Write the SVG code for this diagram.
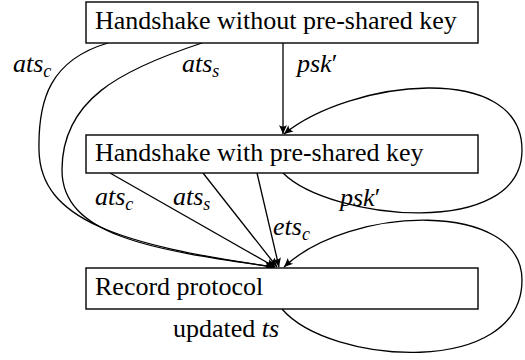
<svg xmlns="http://www.w3.org/2000/svg" width="525" height="360" viewBox="0 0 525 360">
<style>
.box{fill:#fff;stroke:#000;stroke-width:1.4}
.t{font-family:"Liberation Serif","Times New Roman",serif;font-size:26px;fill:#000}
.m{font-family:"Liberation Serif","Times New Roman",serif;font-style:italic;font-size:26px;fill:#000}
.sub{font-size:18px}
.e{fill:none;stroke:#000;stroke-width:1.3;marker-end:url(#ah)}
</style>
<defs>
<marker id="ah" markerUnits="userSpaceOnUse" markerWidth="12" markerHeight="12" viewBox="-10 -6 12 12" refX="0" refY="0" orient="auto">
<path d="M0,0 L-9,-4 Q-6,0 -9,4 Z" fill="#000"/>
</marker>
</defs>
<rect width="525" height="360" fill="#fff"/>
<g id="edges">
<path class="e" d="M283,43 L283,134"/>
<path class="e" d="M108,43 C50,60 38,100 39,150 C40,220 120,245 274,267"/>
<path class="e" d="M202,43 C120,70 62,100 62,170 C62,235 150,250 275,267"/>
<path class="e" d="M110,173 L275,267"/>
<path class="e" d="M203,173 L277,267"/>
<path class="e" d="M257,173 L279,267"/>
<path class="e" d="M283,173 C330,220 522,240 522,150 C522,60 350,80 284,134"/>
<path class="e" d="M282,309 C330,365 522,378 522,280 C522,200 350,205 284,267"/>
</g>
<g id="labels">
<text class="m" x="13" y="72">ats<tspan class="sub" dy="5">c</tspan></text>
<text class="m" x="182" y="72">ats<tspan class="sub" dy="5">s</tspan></text>
<text class="m" x="297" y="72">psk<tspan font-style="normal">′</tspan></text>
<text class="m" x="95" y="205">ats<tspan class="sub" dy="5">c</tspan></text>
<text class="m" x="173" y="205">ats<tspan class="sub" dy="5">s</tspan></text>
<text class="m" x="340" y="206">psk<tspan font-style="normal">′</tspan></text>
<text class="m" x="273" y="235">ets<tspan class="sub" dy="5">c</tspan></text>
<text class="t" x="173" y="337">updated <tspan font-style="italic">ts</tspan></text>
</g>
<g id="n1">
<rect class="box" x="86" y="2" width="392" height="41"/>
<text class="t" x="95" y="29">Handshake without pre-shared key</text>
</g>
<g id="n2">
<rect class="box" x="86" y="135" width="392" height="38"/>
<text class="t" x="95" y="161">Handshake with pre-shared key</text>
</g>
<g id="n3">
<rect class="box" x="86" y="268" width="392" height="41"/>
<text class="t" x="95" y="295">Record protocol</text>
</g>
</svg>
